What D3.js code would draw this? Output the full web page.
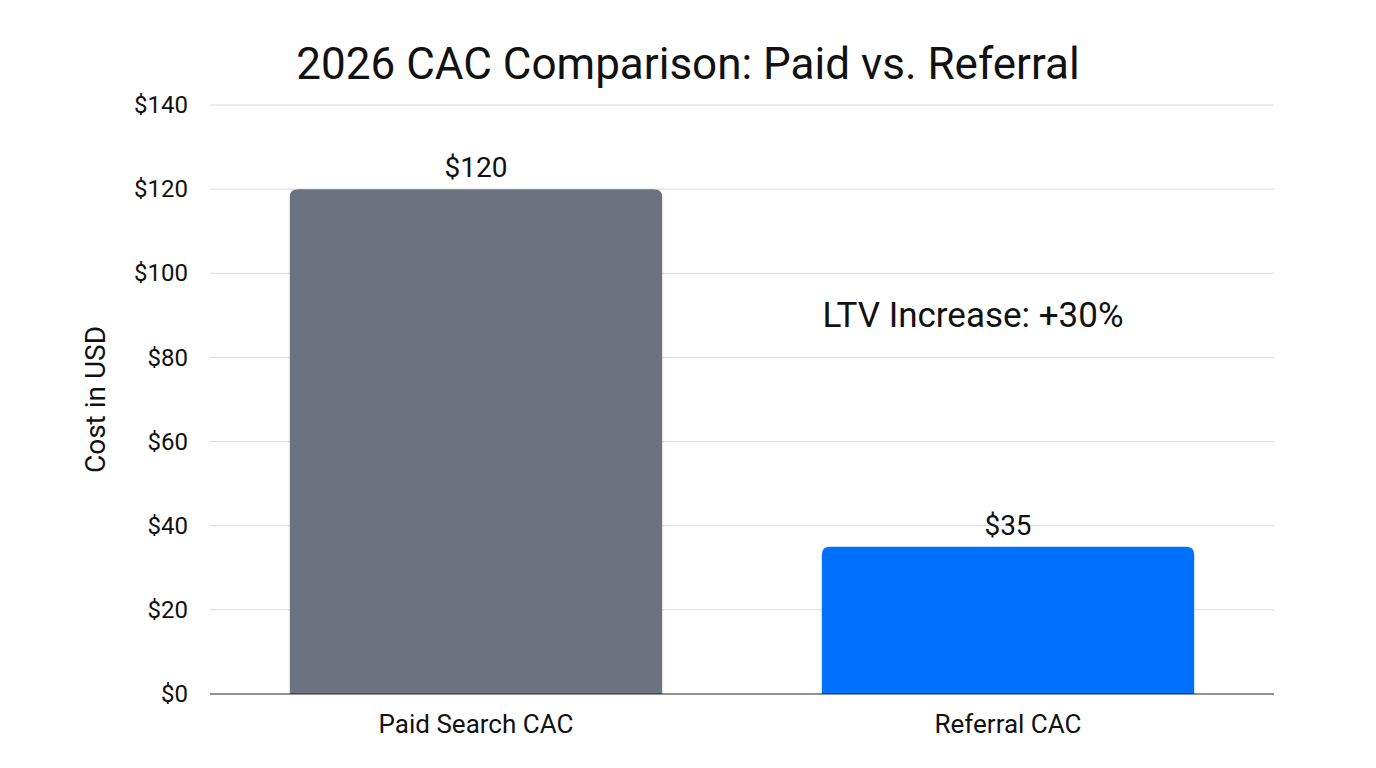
<!DOCTYPE html>
<html lang="en">
<head>
<meta charset="UTF-8">
<title>2026 CAC Comparison</title>
<script src="https://cdn.jsdelivr.net/npm/d3@7"></script>
<style>
    body { margin: 0; background: #fff; }
    text { font-family: Roboto, sans-serif; fill: #111; }
</style>
</head>
<body>
<div id="chart"></div>
<script>
    const categories = ['Paid Search CAC', 'Referral CAC']
    const values = [120, 35]
    const valueLabels = ['$120', '$35']
    const barColors = ['#6b7280', '#0070ff']
    const yTicks = [0, 20, 40, 60, 80, 100, 120, 140]

    const width = 1376, height = 768
    const margin = {top: 105, right: 102, bottom: 74, left: 210}

    const svg = d3.select('#chart').append('svg').attr('width', width).attr('height', height)

    const x = d3.scaleBand().domain(categories).range([margin.left, width - margin.right])
    const y = d3.scaleLinear().domain([0, 140]).range([height - margin.bottom, margin.top])

    // grid
    svg.append('g').selectAll('line').data(yTicks.slice(1)).join('line')
        .attr('x1', margin.left).attr('x2', width - margin.right)
        .attr('y1', d => y(d)).attr('y2', d => y(d))
        .attr('stroke', '#d9d9d9').attr('stroke-width', 1)

    const yAxis = svg.append('g')
        .attr('transform', `translate(${margin.left - 22},0)`)
        .call(d3.axisLeft(y).tickValues(yTicks).tickFormat(d => '$' + d).tickSize(0).tickPadding(0))
    yAxis.select('.domain').remove()
    yAxis.selectAll('text').attr('font-size', 24).style('font-family', 'Roboto, sans-serif').attr('fill', '#111')

    // bars with rounded tops
    const barW = x.bandwidth() * 0.7
    const r = 8
    svg.append('g').selectAll('path').data(categories).join('path')
        .attr('fill', (d, i) => barColors[i])
        .attr('d', (d, i) => {
            const x0 = x(d) + (x.bandwidth() - barW) / 2, x1 = x0 + barW
            const y0 = y(values[i]), yb = y(0)
            return `M${x0},${yb}V${y0 + r}Q${x0},${y0} ${x0 + r},${y0}H${x1 - r}Q${x1},${y0} ${x1},${y0 + r}V${yb}Z`
        })

    // baseline
    svg.append('line')
        .attr('x1', margin.left).attr('x2', width - margin.right)
        .attr('y1', y(0)).attr('y2', y(0)).attr('stroke', '#222').attr('stroke-width', 1.2)

    // value labels
    svg.append('g').selectAll('text').data(categories).join('text')
        .attr('x', d => x(d) + x.bandwidth() / 2)
        .attr('y', (d, i) => y(values[i]) - 12)
        .attr('text-anchor', 'middle').attr('font-size', 28)
        .text((d, i) => valueLabels[i])

    // category labels
    svg.append('g').selectAll('text').data(categories).join('text')
        .attr('x', d => x(d) + x.bandwidth() / 2)
        .attr('y', y(0) + 39)
        .attr('text-anchor', 'middle').attr('font-size', 26)
        .text(d => d)

    // y title
    svg.append('text')
        .attr('transform', `translate(105,${(y(0) + y(140)) / 2}) rotate(-90)`)
        .attr('text-anchor', 'middle').attr('font-size', 28)
        .text('Cost in USD')

    // title
    svg.append('text')
        .attr('x', 688).attr('y', 79)
        .attr('text-anchor', 'middle').attr('font-size', 44)
        .text('2026 CAC Comparison: Paid vs. Referral')

    // annotation
    svg.append('text')
        .attr('x', 973).attr('y', 327)
        .attr('text-anchor', 'middle').attr('font-size', 35)
        .text('LTV Increase: +30%')
</script>
</body>
</html>
